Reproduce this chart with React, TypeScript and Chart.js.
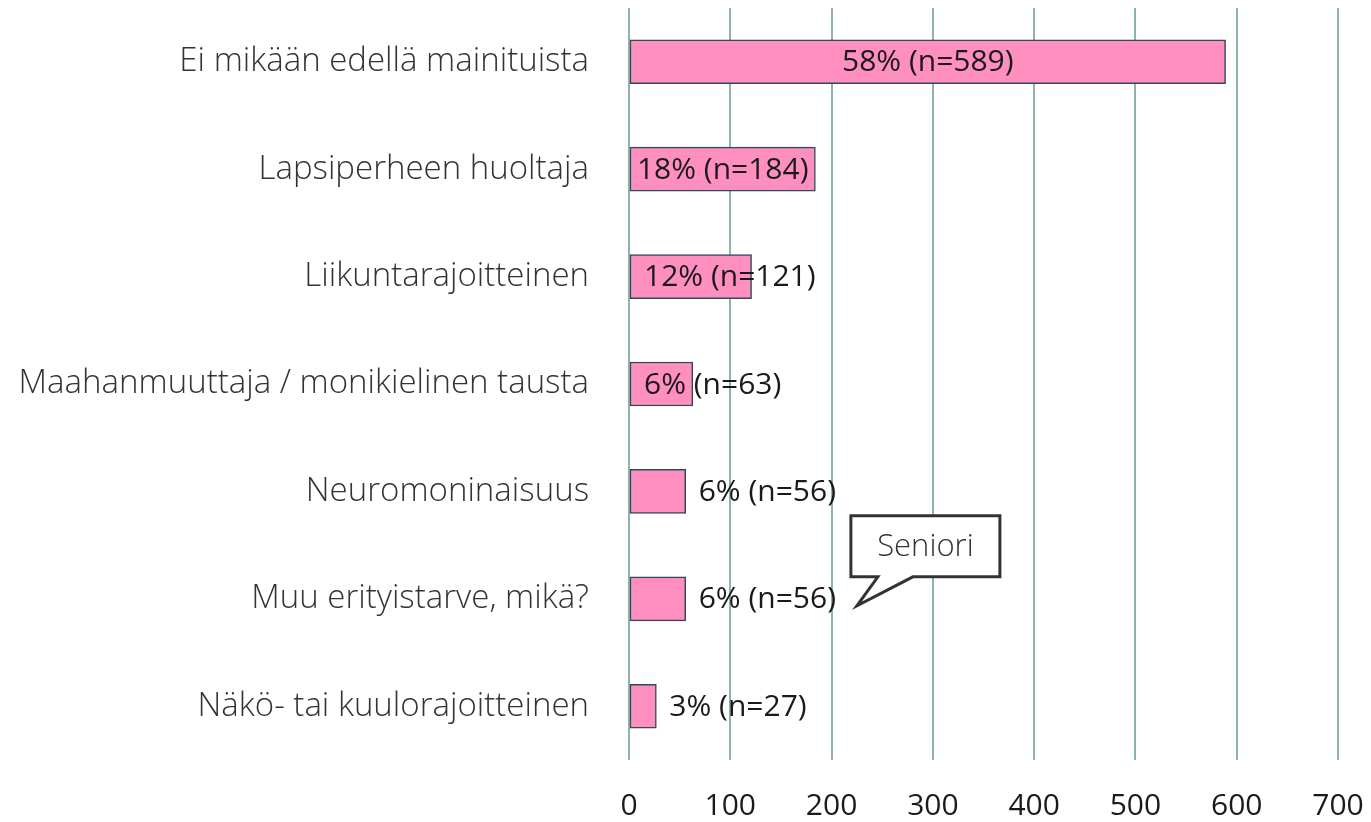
import React, { useEffect, useRef } from "react";
import { Chart, registerables } from "chart.js";

Chart.register(...registerables);

const categories = [
  "Ei mikään edellä mainituista",
  "Lapsiperheen huoltaja",
  "Liikuntarajoitteinen",
  "Maahanmuuttaja / monikielinen tausta",
  "Neuromoninaisuus",
  "Muu erityistarve, mikä?",
  "Näkö- tai kuulorajoitteinen",
];
const counts = [589, 184, 121, 63, 56, 56, 27];
const percents = [58, 18, 12, 6, 6, 6, 3];
const xTicks = [0, 100, 200, 300, 400, 500, 600, 700];
const labelPlacement = ["center", "center", "start", "start", "outside", "outside", "outside"];
const calloutText = "Seniori";

const FONT = "'Open Sans', 'Noto Sans', sans-serif";

const dataLabelPlugin = {
  id: "dataLabels",
  afterDatasetsDraw(chart: any) {
    const ctx = chart.ctx;
    const meta = chart.getDatasetMeta(0);
    ctx.save();
    ctx.font = `30px ${FONT}`;
    ctx.fillStyle = "#1a1a1a";
    ctx.textBaseline = "middle";
    meta.data.forEach((bar: any, i: number) => {
      const text = `${percents[i]}% (n=${counts[i]})`;
      const mode = labelPlacement[i];
      const start = bar.base;
      const end = bar.x;
      if (mode === "center") {
        ctx.textAlign = "center";
        ctx.fillText(text, (start + end) / 2, bar.y + 1);
      } else if (mode === "start") {
        ctx.textAlign = "left";
        ctx.fillText(text, start + 14, bar.y + 1);
      } else {
        ctx.textAlign = "left";
        ctx.fillText(text, end + 13, bar.y + 1);
      }
    });
    ctx.restore();
  },
};

const calloutPlugin = {
  id: "callout",
  afterDraw(chart: any) {
    const ctx = chart.ctx;
    const xs = chart.scales.x;
    const ys = chart.scales.y;
    const tipX = xs.getPixelForValue(225);
    const tipY = ys.getPixelForValue(5) + 7;
    const left = tipX - 6;
    const right = tipX + 143;
    const top = tipY - 90;
    const bottom = tipY - 29;
    const t1 = tipX + 21;
    const t2 = tipX + 56;
    ctx.save();
    ctx.beginPath();
    ctx.moveTo(left, top);
    ctx.lineTo(right, top);
    ctx.lineTo(right, bottom);
    ctx.lineTo(t2, bottom);
    ctx.lineTo(tipX, tipY);
    ctx.lineTo(t1, bottom);
    ctx.lineTo(left, bottom);
    ctx.closePath();
    ctx.fillStyle = "#ffffff";
    ctx.fill();
    ctx.lineWidth = 3;
    ctx.lineJoin = "miter";
    ctx.strokeStyle = "#333333";
    ctx.stroke();
    ctx.font = `300 31px ${FONT}`;
    ctx.fillStyle = "#333333";
    ctx.textAlign = "center";
    ctx.textBaseline = "middle";
    ctx.fillText(calloutText, (left + right) / 2, (top + bottom) / 2 + 1);
    ctx.restore();
  },
};

export default function App() {
  const ref = useRef<HTMLCanvasElement>(null);
  useEffect(() => {
    document.body.style.margin = "0";
    const canvas = ref.current!;
    const chart = new Chart(canvas, {
      type: "bar",
      data: {
        labels: categories,
        datasets: [
          {
            data: counts,
            backgroundColor: "#ff8fbf",
            borderColor: "#2c4a5a",
            borderWidth: 1.5,
            borderSkipped: false,
            barThickness: 44,
          },
        ],
      },
      options: {
        indexAxis: "y",
        animation: false,
        responsive: false,
        maintainAspectRatio: false,
        layout: { padding: { top: 8, right: 33, left: 0, bottom: 0 } },
        plugins: {
          legend: { display: false },
          tooltip: { enabled: false },
        },
        scales: {
          x: {
            type: "linear",
            min: 0,
            max: 700,
            afterBuildTicks: (axis: any) => {
              axis.ticks = xTicks.map((v) => ({ value: v }));
            },
            afterFit: (axis: any) => {
              axis.height = 62;
              axis.paddingLeft = 0;
              axis.paddingRight = 0;
            },
            grid: { color: "#8db3ad", lineWidth: 2, drawTicks: false },
            border: { display: false },
            ticks: {
              padding: 28,
              color: "#1a1a1a",
              font: { family: FONT, size: 30 },
            },
          },
          y: {
            afterFit: (axis: any) => {
              axis.width = 629;
              axis.paddingTop = 0;
              axis.paddingBottom = 0;
            },
            grid: { display: false, drawTicks: false },
            border: { display: false },
            ticks: {
              padding: 40,
              color: "#333333",
              font: { family: FONT, size: 33, weight: "300" },
            },
          },
        },
      },
      plugins: [dataLabelPlugin, calloutPlugin],
    } as any);
    return () => chart.destroy();
  }, []);
  return <canvas ref={ref} width={1371} height={822} style={{ display: "block" }} />;
}
